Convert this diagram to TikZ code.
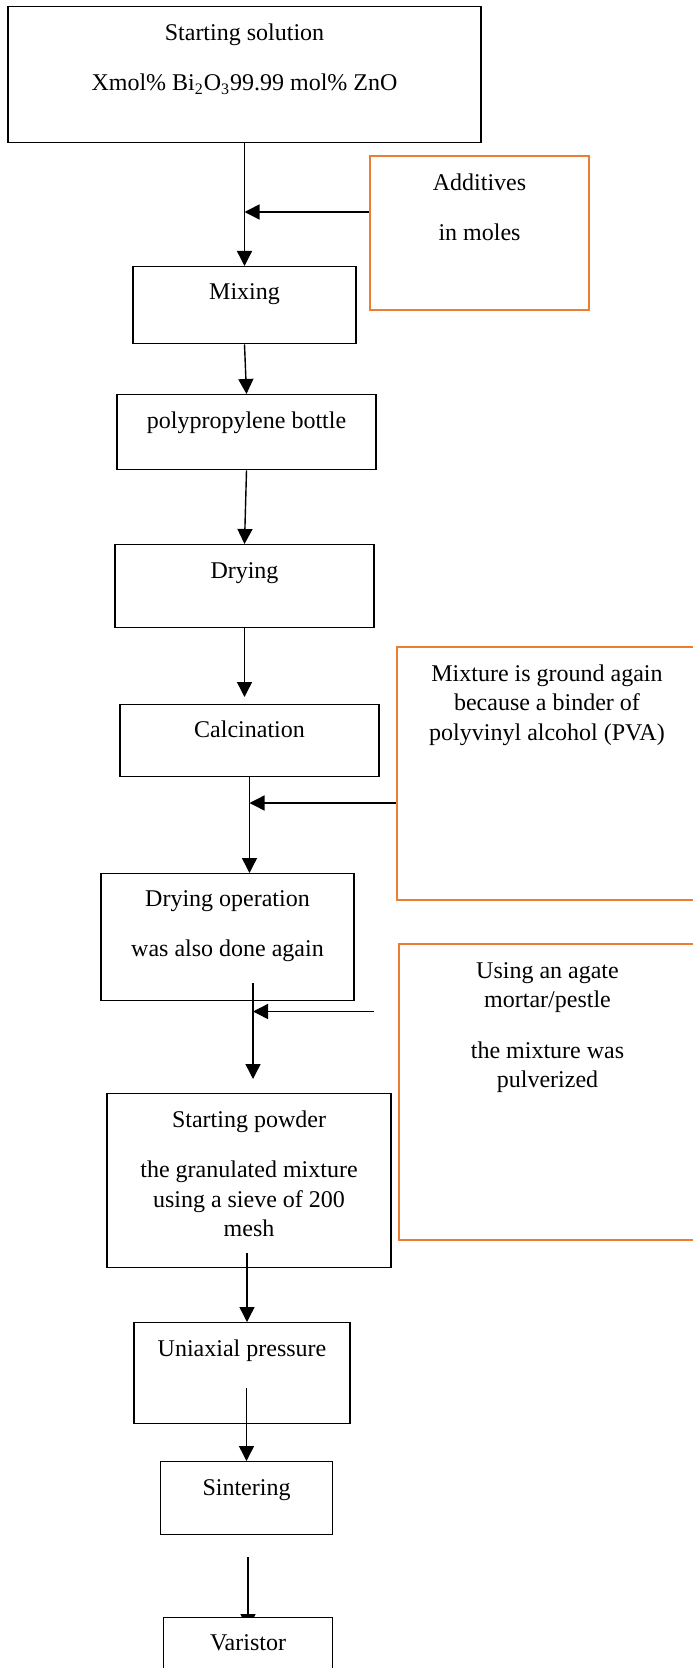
\documentclass[tikz,border=0pt]{standalone}
\usepackage{fontspec}
\setmainfont{Liberation Serif}
\usetikzlibrary{arrows.meta,backgrounds}
\definecolor{addorange}{HTML}{ED7D31}
\newcommand{\steptext}[1]{\begin{tabular}[t]{@{}c@{}}#1\end{tabular}}
\tikzset{
  stepbox/.style={draw, line width=.7pt, inner sep=0pt, anchor=north},
  addbox/.style={stepbox, draw=addorange, line width=1.2pt},
  flow/.style={-{Triangle[length=7.5pt,width=7.5pt]}, line width=.7pt}
}

\begin{document}
\begin{tikzpicture}[x=0.5pt, y=-0.5pt, font=\fontsize{12}{14.75}\selectfont]
  \useasboundingbox (0,0) rectangle (692,1668);
  % process steps
  \node (start) [stepbox, minimum width=236.5pt, text height=17pt, text depth=51pt] at (244.5,6)
    {\steptext{Starting solution\\[10.25pt] Xmol\% Bi\textsubscript{2}O\textsubscript{3}99.99 mol\% ZnO}};
  \node (mixing) [stepbox, minimum width=111.5pt, text height=16.5pt, text depth=22pt] at (244.5,266) {Mixing};
  \node (bottle) [stepbox, minimum width=129.5pt, text height=17pt, text depth=20.5pt] at (246.5,394) {polypropylene bottle};
  \node (drying) [stepbox, minimum width=129.5pt, text height=17pt, text depth=24.5pt] at (244.5,544) {Drying};
  \node (calc) [stepbox, minimum width=129.5pt, text height=16.5pt, text depth=19.5pt] at (249.5,704) {Calcination};
  \node (dryop) [stepbox, minimum width=126.5pt, text height=16.5pt, text depth=47pt] at (227.5,873)
    {\steptext{Drying operation\\[10.25pt] was also done again}};
  \node (powder) [stepbox, minimum width=142pt, text height=17pt, text depth=70pt] at (249,1093)
    {\steptext{Starting powder\\[10.25pt] the granulated mixture\\ using a sieve of 200\\ mesh}};
  \node (press) [stepbox, minimum width=108pt, text height=17pt, text depth=33.5pt] at (242,1322) {Uniaxial pressure};
  \node (sinter) [stepbox, minimum width=86pt, text height=17pt, text depth=19.5pt] at (246.5,1461) {Sintering};
  \node (varistor) [stepbox, fill=white, minimum width=84.5pt, text height=16.5pt, text depth=20pt] at (248,1617) {Varistor};
  % side inputs
  \node (additives) [addbox, minimum width=109.5pt, text height=17pt, text depth=60pt] at (479.5,155)
    {\steptext{Additives\\[10.25pt] in moles}};
  \node (binder) [addbox, minimum width=150pt, text height=17pt, text depth=109.5pt] at (547,646)
    {\steptext{Mixture is ground again\\ because a binder of\\ polyvinyl alcohol (PVA)}};
  \node (agate) [addbox, minimum width=148.5pt, text height=17pt, text depth=131pt] at (547.5,943)
    {\steptext{Using an agate\\ mortar/pestle\\[10.5pt] the mixture was\\ pulverized}};

  \coordinate (j1) at (244.5,212);
  \coordinate (j2) at (249.5,803);
  \coordinate (j3) at (253,1011.5);
  \coordinate (agate in) at (374,1011.5);
  \coordinate (dry out) at (253,983);
  \coordinate (powder out) at (247,1253);
  \coordinate (press out) at (246.5,1388);
  \coordinate (sinter out) at (248,1557);

  \draw[flow] (start.south) -- (mixing.north);
  \draw[flow] (additives.west |- j1) -- (j1);
  \draw[flow] (mixing.south) -- (bottle.north);
  \draw[flow] (bottle.south) -- (drying.north);
  \draw[flow, shorten >=3.5pt] (drying.south) -- (drying.south |- calc.north);
  \draw[flow] (calc.south) -- (calc.south |- dryop.north);
  \draw[flow] (binder.west |- j2) -- (j2);
  \draw[flow, shorten >=7pt] (dry out) -- (dry out |- powder.north);
  \draw[flow] (agate in) -- (j3);
  \draw[flow] (powder out) -- (powder out |- press.north);
  \draw[flow] (press out) -- (press out |- sinter.north);
  \begin{scope}[on background layer]
    \draw[flow, shorten >=-6pt] (sinter out) -- (sinter out |- varistor.north);
  \end{scope}
\end{tikzpicture}
\end{document}
